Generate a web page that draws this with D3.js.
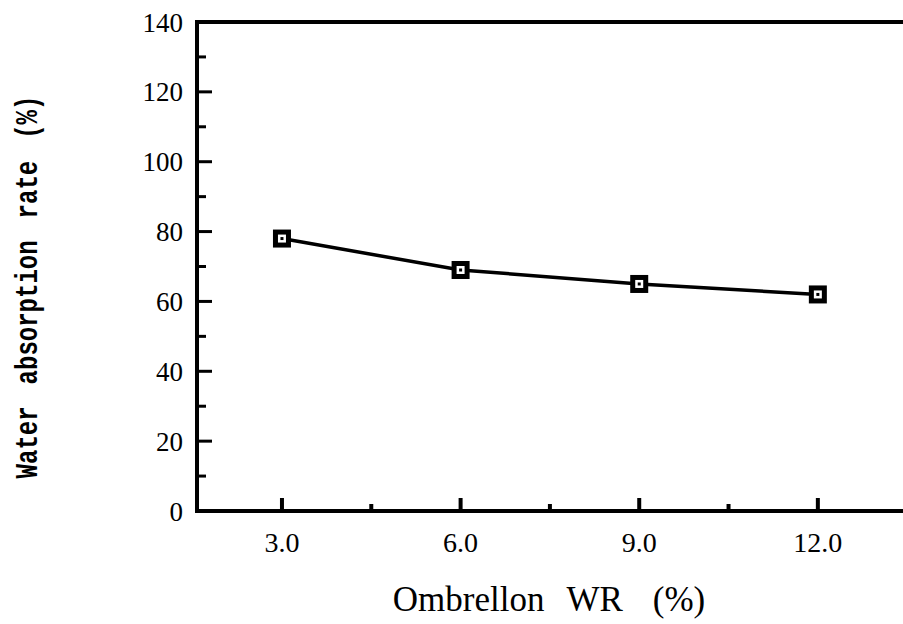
<!DOCTYPE html>
<html>
<head>
<meta charset="utf-8">
<script src="https://cdn.jsdelivr.net/npm/d3@7"></script>
<style>
  body { margin: 0; background: #fff; }
  text { fill: #000; }
</style>
</head>
<body>
<div id="viz"></div>
<script>

var wrValues = [3.0, 6.0, 9.0, 12.0];
var absorption = [78, 69, 65, 62];
var xTicks = [3.0, 6.0, 9.0, 12.0];
var xMinor = [4.5, 7.5, 10.5];
var yTicks = [0, 20, 40, 60, 80, 100, 120, 140];
var yMinor = [10, 30, 50, 70, 90, 110, 130];
var xTitleWords = ["Ombrellon", "WR", "(%)"];
var yTitleWords = ["Water", "absorption", "rate", "(%)"];

var svg = d3.select("#viz")
    .append("svg")
    .attr("width", 903)
    .attr("height", 624);

var _left = 197, _right = 903, _top = 22, _bottom = 511;
var _serif = "'Liberation Serif', 'DejaVu Serif', serif";

var x = d3.scaleLinear().domain([1.573, 13.43]).range([_left, _right]);
var y = d3.scaleLinear().domain([0, 140]).range([_bottom, _top]);

// frame: left, bottom, top
svg.append("path")
    .attr("d", "M" + _right + "," + _top + "H" + _left + "V" + _bottom + "H" + _right)
    .attr("fill", "none")
    .attr("stroke", "#000")
    .attr("stroke-width", 4);

// y ticks (inward)
svg.selectAll(".ymaj")
    .data(yTicks.slice(1, -1))
    .enter().append("line")
    .attr("x1", _left).attr("x2", _left + 15)
    .attr("y1", function(d){ return y(d); })
    .attr("y2", function(d){ return y(d); })
    .attr("stroke", "#000").attr("stroke-width", 3);

svg.selectAll(".ymin")
    .data(yMinor)
    .enter().append("line")
    .attr("x1", _left).attr("x2", _left + 9)
    .attr("y1", function(d){ return y(d); })
    .attr("y2", function(d){ return y(d); })
    .attr("stroke", "#000").attr("stroke-width", 3);

svg.selectAll(".ylab")
    .data(yTicks)
    .enter().append("text")
    .attr("x", 183)
    .attr("y", function(d){ return y(d) + 9.5; })
    .attr("text-anchor", "end")
    .style("font-family", _serif)
    .style("font-size", "27px")
    .text(function(d){ return d; });

// x ticks (inward)
svg.selectAll(".xmaj")
    .data(xTicks)
    .enter().append("line")
    .attr("x1", function(d){ return x(d); })
    .attr("x2", function(d){ return x(d); })
    .attr("y1", _bottom).attr("y2", _bottom - 13)
    .attr("stroke", "#000").attr("stroke-width", 4);

svg.selectAll(".xmin")
    .data(xMinor)
    .enter().append("line")
    .attr("x1", function(d){ return x(d); })
    .attr("x2", function(d){ return x(d); })
    .attr("y1", _bottom).attr("y2", _bottom - 7)
    .attr("stroke", "#000").attr("stroke-width", 4);

svg.selectAll(".xlab")
    .data(xTicks)
    .enter().append("text")
    .attr("x", function(d){ return x(d); })
    .attr("y", 552)
    .attr("text-anchor", "middle")
    .style("font-family", _serif)
    .style("font-size", "28px")
    .text(function(d){ return d.toFixed(1); });

// series line
var line = d3.line()
    .x(function(d, i){ return x(wrValues[i]); })
    .y(function(d){ return y(d); });

svg.append("path")
    .datum(absorption)
    .attr("d", line)
    .attr("fill", "none")
    .attr("stroke", "#000")
    .attr("stroke-width", 3.5);

var pts = svg.selectAll(".pt")
    .data(absorption)
    .enter().append("g")
    .attr("transform", function(d, i){ return "translate(" + x(wrValues[i]) + "," + y(d) + ")"; });

pts.append("rect")
    .attr("x", -6.5).attr("y", -6.5)
    .attr("width", 13).attr("height", 13)
    .attr("fill", "#fff")
    .attr("stroke", "#000")
    .attr("stroke-width", 5);

pts.append("rect")
    .attr("x", -1.5).attr("y", -1.5)
    .attr("width", 3).attr("height", 3)
    .attr("fill", "#000");

// x axis title, words spaced apart
var xt = svg.append("text")
    .attr("x", 549)
    .attr("y", 611)
    .attr("text-anchor", "middle")
    .style("font-family", _serif)
    .style("font-size", "35px");

xt.selectAll("tspan")
    .data(xTitleWords)
    .enter().append("tspan")
    .attr("dx", function(d, i){ return i == 0 ? 0 : (i == 1 ? 22 : 30); })
    .text(function(d){ return d; });

// y axis title (tall typewriter glyphs)
var yt = svg.append("text")
    .attr("transform", "translate(37,287) rotate(-90) scale(1,1.3)")
    .attr("text-anchor", "middle")
    .style("font-family", "'Liberation Mono', 'DejaVu Sans Mono', monospace")
    .style("font-size", "24px")
    .style("font-weight", "bold");

yt.selectAll("tspan")
    .data(yTitleWords)
    .enter().append("tspan")
    .attr("dx", function(d, i){ return i == 0 ? 0 : 22; })
    .text(function(d){ return d; });

</script>
</body>
</html>
